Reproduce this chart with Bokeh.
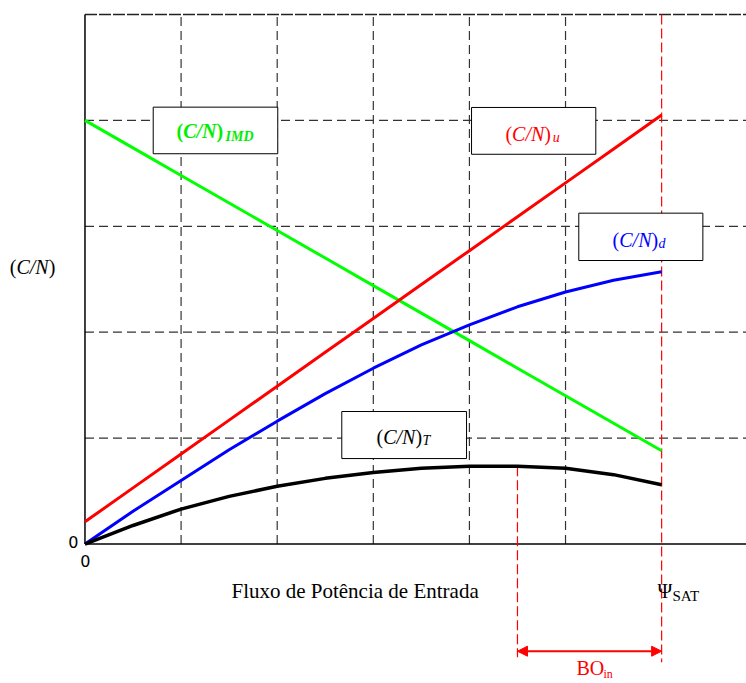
from bokeh.plotting import figure
from bokeh.models import Range1d, Arrow, NormalHead
from bokeh.core.properties import value
from bokeh.embed import file_html
from bokeh.resources import INLINE

# ---- data ----
flux = [0, 0.5, 1, 1.5, 2, 2.5, 3, 3.5, 4, 4.5, 5, 5.5, 6]
cn_u = [0.21, 0.53, 0.85, 1.17, 1.49, 1.81, 2.13, 2.45, 2.77, 3.09, 3.41, 3.73, 4.05]
cn_imd = [4.0, 3.74, 3.48, 3.22, 2.96, 2.70, 2.44, 2.18, 1.92, 1.66, 1.40, 1.14, 0.88]
cn_d = [0, 0.31, 0.60, 0.89, 1.16, 1.42, 1.66, 1.88, 2.07, 2.24, 2.38, 2.49, 2.57]
cn_t = [0, 0.175, 0.33, 0.45, 0.545, 0.62, 0.675, 0.715, 0.735, 0.735, 0.715, 0.655, 0.56]
x_grid = [1, 2, 3, 4, 5]
y_grid = [1, 2, 3, 4]
y_top = 5
psi_sat = 6.0
bo_point = 4.5
peak_t = 0.735

SERIF = value("Liberation Serif")
X0, X1 = -0.879, 6.883
Y0, Y1 = -1.317, 5.132
DY = 0.06  # small upward nudge for text baselines

p = figure(width=746, height=683, x_range=Range1d(X0, X1), y_range=Range1d(Y0, Y1),
           output_backend="svg", toolbar_location=None, min_border=0)
p.axis.visible = False
p.grid.visible = False
p.outline_line_color = None
p.background_fill_color = "white"

GRID = "#333333"
# grid
p.segment(x0=x_grid, y0=[0] * len(x_grid), x1=x_grid, y1=[y_top] * len(x_grid),
          line_color=GRID, line_width=1.2, line_dash="9 5")
p.segment(x0=[0] * len(y_grid), y0=y_grid, x1=[X1] * len(y_grid), y1=y_grid,
          line_color=GRID, line_width=1.2, line_dash="9 5")
p.segment(x0=[0], y0=[y_top], x1=[X1], y1=[y_top], line_color="#222222", line_width=1.5, line_dash="12 2")
# axes
p.segment(x0=[0], y0=[0], x1=[0], y1=[y_top], line_color="black", line_width=1.5)
p.segment(x0=[0], y0=[0], x1=[X1], y1=[0], line_color="black", line_width=1.5)

# red dashed markers
p.segment(x0=[psi_sat], y0=[y_top], x1=[psi_sat], y1=[-1.116], line_color="red", line_width=1.2, line_dash="10 4")
p.segment(x0=[bo_point], y0=[peak_t], x1=[bo_point], y1=[-1.069], line_color="red", line_width=1.2, line_dash="10 4")

# curves
p.line(flux, cn_imd, line_color="#00ff00", line_width=3)
p.line(flux, cn_u, line_color="#ff0000", line_width=3)
p.line(flux, cn_d, line_color="#0000ff", line_width=3)
p.line(flux, cn_t, line_color="black", line_width=3.5)

# label boxes
boxes = dict(left=[0.710, 4.022, 5.138, 2.672], right=[2.006, 5.315, 6.429, 3.970],
             top=[4.125, 4.122, 3.124, 1.251], bottom=[3.685, 3.680, 2.677, 0.807])
p.quad(**boxes, fill_color="white", line_color="black", line_width=1)


def txt(x, y, s, size, color="black", style="normal", align="left", font=SERIF, x_offset=0):
    p.text(x=[x], y=[y + DY], text=[s], text_font=font, text_font_size=f"{size}px",
           text_font_style=style, text_color=color, text_baseline="alphabetic",
           text_align=align, x_offset=x_offset)


def cn_label(x, y, color, bold, size=20):
    style_up = "bold" if bold else "normal"
    style_it = "bold italic" if bold else "italic"
    w_par = 0.333 * size
    w_mid = (0.667 + 0.278 + (0.722 if bold else 0.667)) * size
    txt(x, y, "(", size, color, style_up)
    txt(x, y, "C/N", size, color, style_it, x_offset=w_par)
    txt(x, y, ")", size, color, style_up, x_offset=w_par + w_mid)


cn_label(0.952, 3.841, "#00ee00", True)
txt(1.462, 3.788, "IMD", 14, "#00ee00", "bold italic")
cn_label(4.375, 3.810, "#ff0000", False)
txt(4.866, 3.777, "u", 14, "#ff0000", "italic")
cn_label(5.490, 2.809, "#0000ff", False)
txt(5.968, 2.778, "d", 14, "#0000ff", "italic")
cn_label(3.033, 0.952, "black", False)
txt(3.512, 0.914, "T", 14, "black", "italic")
cn_label(-0.783, 2.551, "black", False)

# zeros
txt(-0.068, -0.045, "0", 16, align="right", font=value("DejaVu Sans"))
txt(0.005, -0.222, "0", 16, align="center", font=value("DejaVu Sans"))

# x label
txt(1.524, -0.502, "Fluxo de Potência de Entrada", 21)
txt(5.957, -0.505, "Ψ", 20)
txt(6.113, -0.55, "SAT", 15)

# back-off arrow
p.add_layout(Arrow(start=NormalHead(size=10, fill_color="red", line_color="red"),
                   end=NormalHead(size=10, fill_color="red", line_color="red"),
                   x_start=bo_point, y_start=-1.012, x_end=psi_sat, y_end=-1.012,
                   line_color="red", line_width=2))
txt(5.114, -1.235, "BO", 20, "red")
txt(5.395, -1.285, "in", 12, "red")

open("out.html", "w").write(file_html(p, INLINE))
